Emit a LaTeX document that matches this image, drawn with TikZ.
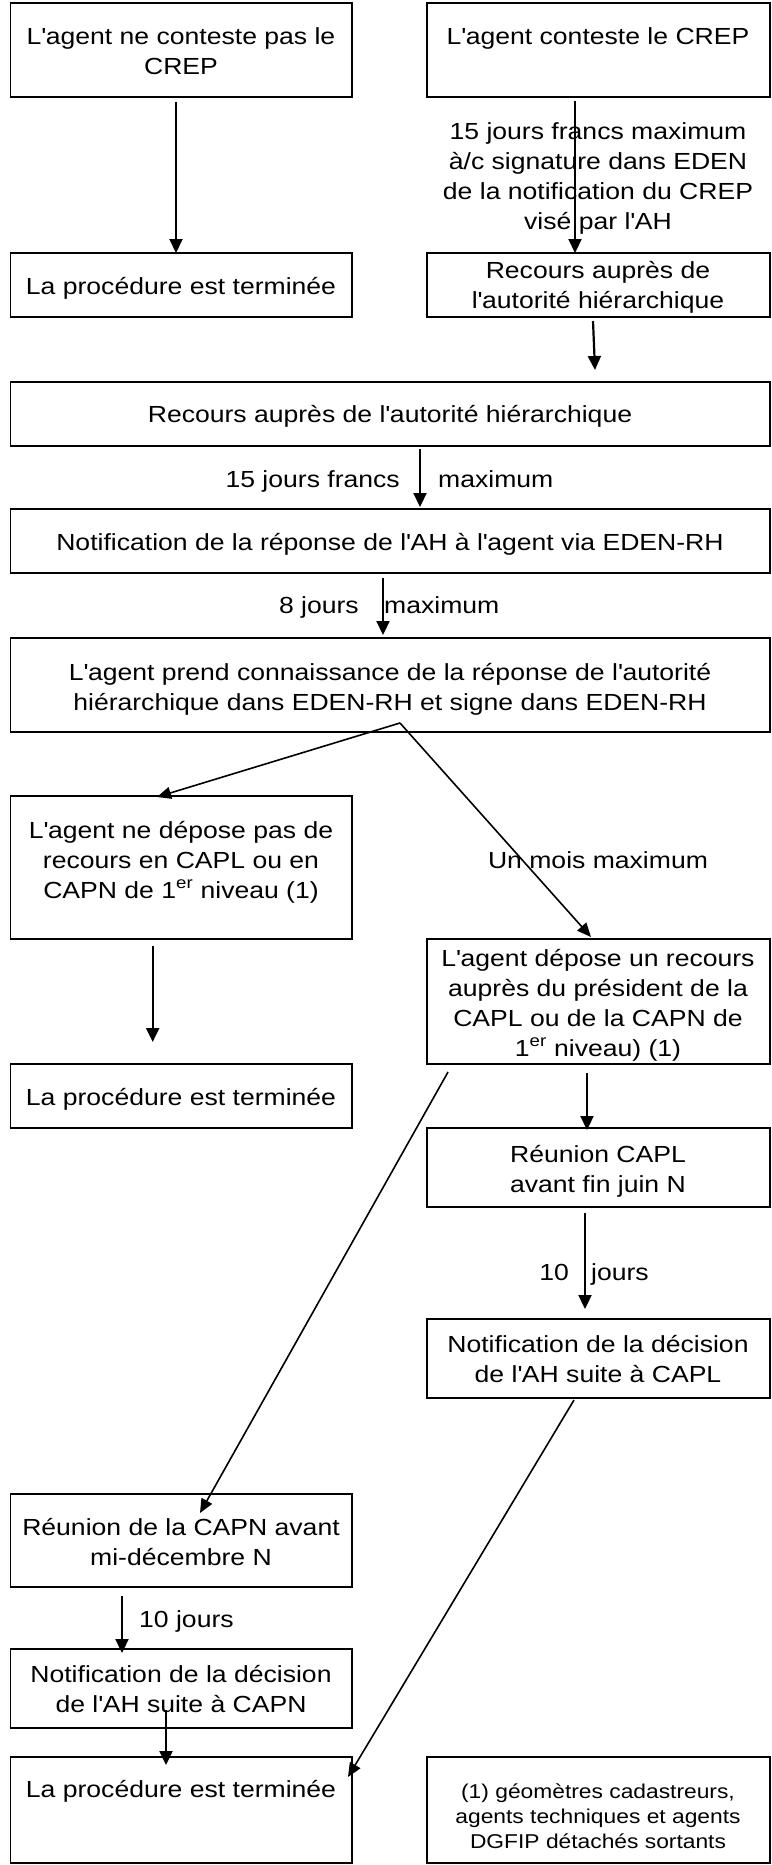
\documentclass[tikz,border=0pt]{standalone}
\usepackage{fontspec}
\setmainfont{Liberation Sans}[FakeStretch=1.14]
\usetikzlibrary{arrows.meta,calc}
\newcommand\apos{\textquotesingle}
\begin{document}
\begin{tikzpicture}[x=1pt,y=-1pt,
  box/.style={draw=black,line width=1.5pt,inner sep=0pt,rectangle},
  txt/.style={inner sep=0pt,align=center,anchor=base,font=\fontsize{23.3}{30}\selectfont},
  txtr/.style={txt,anchor=base east},
  txtl/.style={txt,anchor=base west},
  small/.style={inner sep=0pt,align=center,anchor=base,font=\fontsize{20}{25}\selectfont},
  arr/.style={line width=2.2pt,-{Triangle[length=14pt,width=13pt]}},
  diag/.style={line width=1.6pt,-{Triangle[length=14pt,width=12pt]}}]
\fill[white] (0,0) rectangle (771,1865);
\useasboundingbox (0,0) rectangle (771,1865);
% boxes
\node[box,minimum width=341.3pt,minimum height=94pt] (b1) at (181.35,50) {};
\node[box,minimum width=343pt,minimum height=94pt] (b2) at (598.5,50) {};
\node[box,minimum width=341.3pt,minimum height=64pt] (b3) at (181.35,285) {};
\node[box,minimum width=343pt,minimum height=64pt] (b4) at (598.5,285) {};
\node[box,minimum width=759.3pt,minimum height=64pt] (b5) at (390.35,414) {};
\node[box,minimum width=759.3pt,minimum height=64pt] (b6) at (390.35,541) {};
\node[box,minimum width=759.3pt,minimum height=94pt] (b7) at (390.35,685) {};
\node[box,minimum width=341.3pt,minimum height=143pt] (b8) at (181.35,867.5) {};
\node[box,minimum width=343pt,minimum height=125pt] (b9) at (598.5,1001.5) {};
\node[box,minimum width=341.3pt,minimum height=64pt] (b10) at (181.35,1096) {};
\node[box,minimum width=343pt,minimum height=79pt] (b11) at (598.5,1167.5) {};
\node[box,minimum width=343pt,minimum height=79pt] (b12) at (598.5,1358.5) {};
\node[box,minimum width=341.3pt,minimum height=93pt] (b13) at (181.35,1540.5) {};
\node[box,minimum width=341.3pt,minimum height=79pt] (b14) at (181.35,1688.5) {};
\node[box,minimum width=341.3pt,minimum height=106pt] (b15) at (181.35,1810) {};
\node[box,minimum width=343pt,minimum height=106pt] (b16) at (598.5,1810) {};
% texts (multi-line nodes are anchored at the baseline of their last line)
\node[txt] (t1) at (181,75) {L\apos agent ne conteste pas le\\CREP};
\node[txt] (t2) at (598,45) {L\apos agent conteste le CREP};
\node[txt] (t3) at (181,294) {La procédure est terminée};
\node[txt] (t4) at (598,308) {Recours auprès de\\l\apos autorité hiérarchique};
\node[txt] (l2) at (598,229) {15 jours francs maximum\\à/c signature dans EDEN\\de la notification du CREP\\visé par l\apos AH};
\node[txt] (t5) at (390,422) {Recours auprès de l\apos autorité hiérarchique};
\node[txtr] (l4a) at (400,487) {15 jours francs};
\node[txtl] (l4b) at (438,487) {maximum};
\node[txt] (t6) at (390,550) {Notification de la réponse de l\apos AH à l\apos agent via EDEN-RH};
\node[txtr] (l5a) at (359,613) {8 jours};
\node[txtl] (l5b) at (384,613) {maximum};
\node[txt] (t7) at (390,710) {L\apos agent prend connaissance de la réponse de l\apos autorité\\hiérarchique dans EDEN-RH et signe dans EDEN-RH};
\node[txt] (t8) at (181,898) {L\apos agent ne dépose pas de\\recours en CAPL ou en\\CAPN de 1\textsuperscript{er} niveau (1)};
\node[txt] (lum) at (598,868) {Un mois maximum};
\node[txt] (t9) at (598,1056) {L\apos agent dépose un recours\\auprès du président de la\\CAPL ou de la CAPN de\\1\textsuperscript{er} niveau) (1)};
\node[txt] (t10) at (181,1105) {La procédure est terminée};
\node[txt] (t11) at (598,1192) {Réunion CAPL\\avant fin juin N};
\node[txtr] (l8a) at (569,1280) {10};
\node[txtl] (l8b) at (591,1280) {jours};
\node[txt] (t12) at (598,1382) {Notification de la décision\\de l\apos AH suite à CAPL};
\node[txt] (t13) at (181,1565) {Réunion de la CAPN avant\\mi-décembre N};
\node[txtl] (l9) at (139,1627) {10 jours};
\node[txt] (t14) at (181,1712) {Notification de la décision\\de l\apos AH suite à CAPN};
\node[txt] (t15) at (181,1797) {La procédure est terminée};
\node[small] (t16) at (598,1848) {(1) géomètres cadastreurs,\\agents techniques et agents\\DGFIP détachés sortants};
% connector end points
\coordinate (a1s) at (176,102);   \coordinate (a1e) at (176,253);
\coordinate (a2s) at (575,101);   \coordinate (a2e) at (575,253);
\coordinate (a3s) at (593,321);   \coordinate (a3e) at (595,370);
\coordinate (a4s) at (420,449);   \coordinate (a4e) at (420,507);
\coordinate (a5s) at (383,578);   \coordinate (a5e) at (383,635);
\coordinate (apex) at (400,723);
\coordinate (d1e) at (157,797);   \coordinate (d2e) at (591,937);
\coordinate (a6s) at (152.7,946); \coordinate (a6e) at (152.7,1042);
\coordinate (a7s) at (587,1073);  \coordinate (a7e) at (587,1130);
\coordinate (d3s) at (448,1072);  \coordinate (d3e) at (200,1513);
\coordinate (a8s) at (585,1213);  \coordinate (a8e) at (585,1309);
\coordinate (d4s) at (574,1400);  \coordinate (d4e) at (348,1777);
\coordinate (a9s) at (122,1596);  \coordinate (a9e) at (122,1653);
\coordinate (a10s) at (166,1710); \coordinate (a10e) at (166,1765);
% connectors
\draw[arr] (a1s) -- (a1e);
\draw[arr] (a2s) -- (a2e);
\draw[arr] (a3s) -- (a3e);
\draw[arr] (a4s) -- (a4e);
\draw[arr] (a5s) -- (a5e);
\draw[diag] (apex) -- (d1e);
\draw[diag] (apex) -- (d2e);
\draw[arr] (a6s) -- (a6e);
\draw[arr] (a7s) -- (a7e);
\draw[diag] (d3s) -- (d3e);
\draw[arr] (a8s) -- (a8e);
\draw[diag] (d4s) -- (d4e);
\draw[arr] (a9s) -- (a9e);
\draw[arr] (a10s) -- (a10e);
\end{tikzpicture}
\end{document}
